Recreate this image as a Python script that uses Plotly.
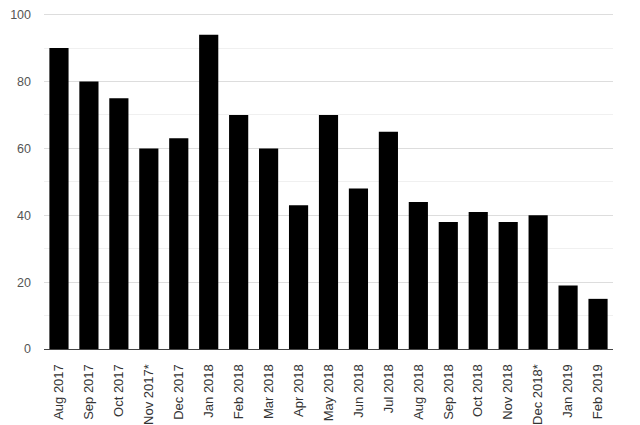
import plotly.graph_objects as go

months = ["Aug 2017", "Sep 2017", "Oct 2017", "Nov 2017*", "Dec 2017", "Jan 2018",
          "Feb 2018", "Mar 2018", "Apr 2018", "May 2018", "Jun 2018", "Jul 2018",
          "Aug 2018", "Sep 2018", "Oct 2018", "Nov 2018", "Dec 2018*", "Jan 2019", "Feb 2019"]
values = [90, 80, 75, 60, 63, 94, 70, 60, 43, 70, 48, 65, 44, 38, 41, 38, 40, 19, 15]
y_ticks = [0, 20, 40, 60, 80, 100]

fig = go.Figure(go.Bar(x=months, y=values, marker=dict(color="#000000", line=dict(width=0))))

fig.update_layout(
    width=640, height=425,
    margin=dict(l=36, r=35, t=5, b=84, autoexpand=False),
    plot_bgcolor="white", paper_bgcolor="white",
    bargap=0.36,
    showlegend=False,
    font=dict(family="Liberation Sans, Arial, sans-serif", size=13, color="#555555"),
)
fig.update_xaxes(
    tickangle=-90, showgrid=False, ticks="", showline=True, linecolor="#444444", linewidth=1,
    tickfont=dict(size=13, color="#333333"), automargin=False, ticklabelstandoff=9,
)
fig.update_yaxes(
    range=[0, 100.5], tickvals=y_ticks, showgrid=True, gridcolor="#dddddd", gridwidth=1,
    zeroline=False, ticks="", ticklabelstandoff=12, automargin=False,
    ticklabeloverflow="allow",
    minor=dict(dtick=10, showgrid=True, gridcolor="#f0f0f0", gridwidth=1),
    tickfont=dict(size=12.5, color="#555555"),
)

fig.write_html("out.html")
